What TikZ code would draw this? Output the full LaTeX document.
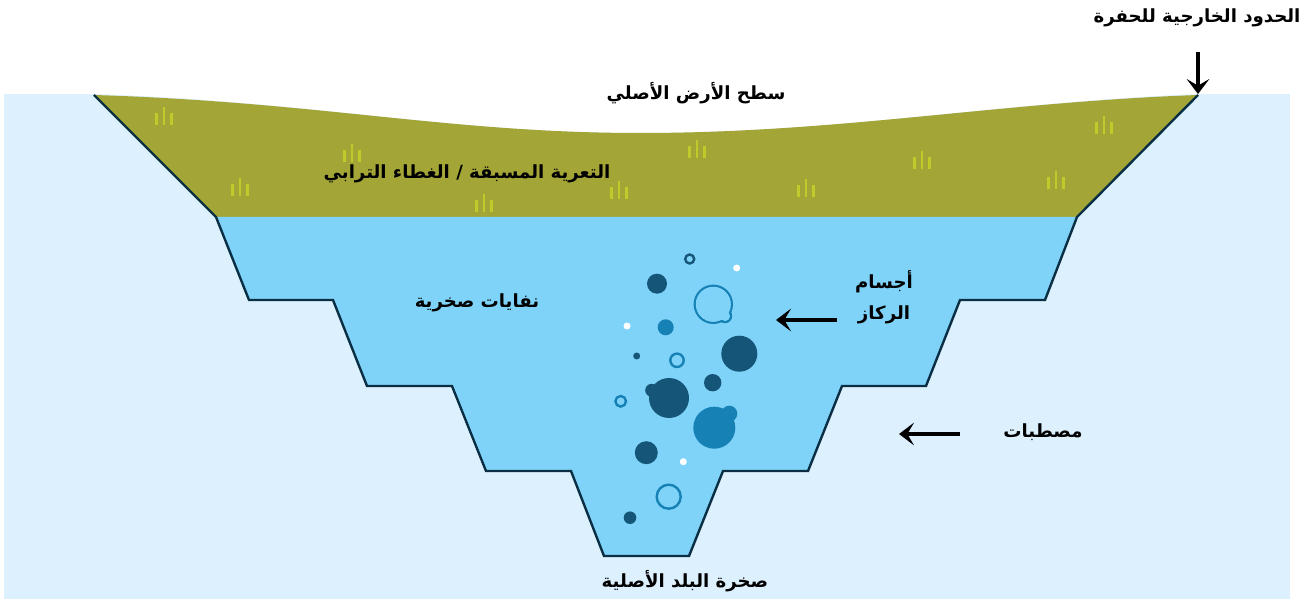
\documentclass[tikz,border=0pt]{standalone}
\usepackage{fontspec}
\usetikzlibrary{arrows.meta}
\TeXXeTstate=1
\newfontfamily\arabicfont[Script=Arabic]{DejaVu Sans}
\definecolor{rockbg}{HTML}{DCF1FD}
\definecolor{pitblue}{HTML}{7FD3F9}
\definecolor{olive}{HTML}{A3A537}
\definecolor{grass}{HTML}{BFCB2B}
\definecolor{oredark}{HTML}{155678}
\definecolor{oreblue}{HTML}{1681B4}
\definecolor{pitline}{HTML}{0A2F45}
\tikzset{
  x=0.75pt,y=-0.75pt,
  lbl/.style={inner sep=0pt,align=center,text=black,font=\arabicfont\bfseries\fontsize{13.6}{23}\selectfont},
  callout/.style={line width=2.6pt,black,-{Stealth[length=11.25pt,width=17pt,inset=5pt]}},
  tuft/.style={grass,line width=1.8pt},
  dk/.style={fill=oredark,draw=none},
  bl/.style={fill=oreblue,draw=none},
  wh/.style={fill=white,draw=none},
  ringd/.style={draw=oredark,line width=1.8pt,fill=none},
  ringb/.style={draw=oreblue,line width=1.8pt,fill=none},
}
\newcommand{\tuftat}[2]{%
  \draw[tuft] (#1-7.5,#2-3)--(#1-7.5,#2+9);
  \draw[tuft] (#1,#2-9)--(#1,#2+9);
  \draw[tuft] (#1+7.5,#2-3)--(#1+7.5,#2+9);}
\begin{document}
\begin{tikzpicture}
\useasboundingbox (0,0) rectangle (1314,599);
% host rock
\fill[rockbg] (4,94) -- (1290,94) -- (1290,599) -- (4,599) -- cycle;
% white sky above the original ground curve
\fill[white] (94,94) .. controls (320,102) and (450,133) .. (640,133)
   .. controls (840,133) and (1000,102) .. (1198,94) -- cycle;
% olive overburden
\fill[olive] (94,95) .. controls (320,102) and (450,133) .. (640,133)
   .. controls (840,133) and (1000,102) .. (1198,95) -- (1077,217) -- (216,217) -- cycle;
% waste rock
\fill[pitblue] (216,217) -- (249,300) -- (333,300) -- (367,386) -- (452,386) -- (486,471)
   -- (571,471) -- (604,556) -- (689,556) -- (723,471) -- (808,471) -- (842,386)
   -- (926,386) -- (960,300) -- (1045,300) -- (1077,217) -- cycle;
% pit outline
\draw[pitline,line width=1.8pt,line join=miter] (94,95) -- (216,217) -- (249,300) -- (333,300) -- (367,386) -- (452,386) -- (486,471)
   -- (571,471) -- (604,556) -- (689,556) -- (723,471) -- (808,471) -- (842,386)
   -- (926,386) -- (960,300) -- (1045,300) -- (1077,217) -- (1198,95);
% grass tufts
\tuftat{164}{116}\tuftat{352}{153}\tuftat{240}{187}\tuftat{484}{203}\tuftat{619}{190}
\tuftat{697}{149}\tuftat{806}{188}\tuftat{922}{160}\tuftat{1056}{180}\tuftat{1104}{125}
% ore bodies
\draw[ringd] (689.7,259) circle (4.5);
\fill[wh] (736.7,268) circle (3.5);
\fill[dk] (657,283.7) circle (10);
\draw[ringb] (713.3,304.3) circle (18.5);
\draw[ringb] (725,316) circle (6);
\fill[pitblue] (713.3,304.3) circle (17.5);
\fill[pitblue] (725,316) circle (5);
\fill[wh] (627,326) circle (3.5);
\fill[bl] (665.7,327.3) circle (8);
\fill[dk] (739.3,353.7) circle (18);
\fill[dk] (636.7,356) circle (3.5);
\draw[ringb] (677,360.3) circle (6.7);
\fill[dk] (712.7,382.7) circle (8.7);
\fill[dk] (669,398) circle (20);
\fill[dk] (651.7,390.3) circle (6.5);
\draw[ringb] (620.7,401.3) circle (5.3);
\fill[bl] (714.3,427.7) circle (21);
\fill[bl] (729.3,413.7) circle (8);
\fill[dk] (646.3,452.7) circle (11.5);
\fill[wh] (683.3,461.7) circle (3.5);
\draw[ringb] (668.7,496.7) circle (12);
\fill[dk] (630,517.7) circle (6.3);
% labels
\node[lbl] (limit) at (1197,18) {\beginR الحدود الخارجية للحفرة\endR};
\node[lbl] (ground) at (696,93) {\beginR سطح الأرض الأصلي\endR};
\node[lbl] (overburden) at (467,174) {\beginR التعرية المسبقة / الغطاء الترابي\endR};
\node[lbl] (waste) at (477,303) {\beginR نفايات صخرية\endR};
\node[lbl] (ore) at (884,297) {\beginR أجسام\endR\\\beginR الركاز\endR};
\node[lbl] (benches) at (1043,432) {\beginR مصطبات\endR};
\node[lbl] (bedrock) at (685,581) {\beginR صخرة البلد الأصلية\endR};
% arrows
\coordinate (limitA) at (1198,52);
\coordinate (limitB) at (1198,94);
\coordinate (oreA) at (837,320);
\coordinate (oreB) at (776,320);
\coordinate (benchA) at (960,434);
\coordinate (benchB) at (899,434);
\draw[callout] (limitA) -- (limitB);
\draw[callout] (oreA) -- (oreB);
\draw[callout] (benchA) -- (benchB);
\end{tikzpicture}
\end{document}
